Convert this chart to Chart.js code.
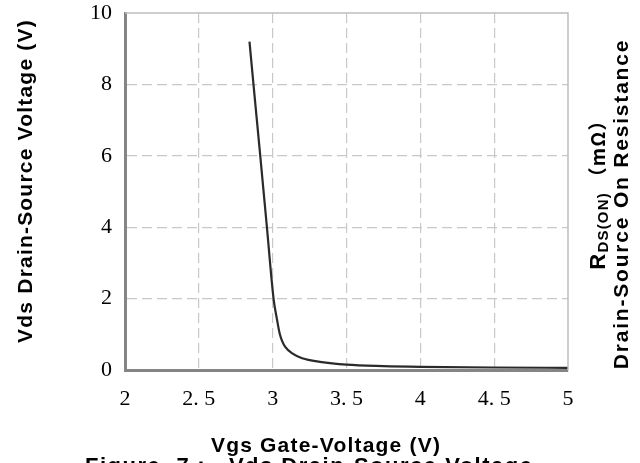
<!DOCTYPE html>
<html>
<head>
<meta charset="utf-8">
<script src="https://cdn.jsdelivr.net/npm/chart.js@4"></script>
<style>
  html, body { margin: 0; padding: 0; background: #fff; }
  #wrap { width: 640px; height: 463px; position: relative; }
</style>
</head>
<body>
<div id="wrap"><canvas id="vdsChart"></canvas></div>
<script>
// --- DATA ---
const vgs = [2.843, 2.87, 2.916, 2.961, 3.006, 3.03, 3.047, 3.065, 3.085, 3.13, 3.2, 3.32, 3.5, 3.75, 4.0, 4.5, 5.0];
const vds = [9.2, 8.0, 6.0, 4.0, 2.0, 1.4, 1.03, 0.8, 0.65, 0.47, 0.33, 0.23, 0.15, 0.11, 0.09, 0.07, 0.06];
const xTicks = [2, 2.5, 3, 3.5, 4, 4.5, 5];
const xTickLabels = ['2', '2. 5', '3', '3. 5', '4', '4. 5', '5'];
const yTicks = [0, 2, 4, 6, 8, 10];

const xTitle = 'Vgs Gate-Voltage (V)';
const yTitle = 'Vds Drain-Source Voltage (V)';
const caption = 'Figure  7\uFF1A  Vds Drain-Source Voltage';

const GRID = '#c8c8c8';
const SANS = '"Liberation Sans", Arial, sans-serif';
const SERIF = '"Liberation Serif", "Times New Roman", serif';

// titles, right-hand label and the clipped caption
const textPlugin = {
    id: 'texts',
    afterDraw(chart) {
        const ctx = chart.ctx;
        const area = chart.chartArea;

        // plain frame on top and right
        ctx.save();
        ctx.strokeStyle = '#bdbdbd';
        ctx.lineWidth = 1.5;
        ctx.beginPath();
        ctx.moveTo(area.left, area.top);
        ctx.lineTo(area.right, area.top);
        ctx.lineTo(area.right, area.bottom);
        ctx.stroke();
        ctx.restore();

        ctx.save();
        ctx.fillStyle = '#000';
        ctx.letterSpacing = '1.2px';
        ctx.font = 'bold 21px ' + SANS;
        ctx.textBaseline = 'alphabetic';
        ctx.textAlign = 'center';
        ctx.fillText(xTitle, 326, 452);

        ctx.save();
        ctx.translate(32, 181);
        ctx.rotate(-Math.PI / 2);
        ctx.fillText(yTitle, 0, 0);
        ctx.restore();

        // right axis label (two lines, rotated)
        ctx.save();
        ctx.translate(628, 204);
        ctx.rotate(-Math.PI / 2);
        ctx.letterSpacing = '1.8px';
        ctx.fillText('Drain-Source On Resistance', 0, 0);
        ctx.restore();

        ctx.save();
        ctx.translate(605, 190);
        ctx.rotate(-Math.PI / 2);
        ctx.textAlign = 'left';
        ctx.letterSpacing = '1.2px';
        const parts = [
            { t: 'R', f: 'bold 22px ' + SANS, dy: 0 },
            { t: 'DS(ON)', f: 'bold 15px ' + SANS, dy: 3 },
            { t: ' \uFF08m\u03A9\uFF09', f: 'bold 19px "Noto Sans CJK SC"', dy: 0 }
        ];
        let total = 0;
        parts.forEach(p => { ctx.font = p.f; p.w = ctx.measureText(p.t).width; total += p.w; });
        let px = -total / 2;
        parts.forEach(p => { ctx.font = p.f; ctx.fillText(p.t, px, p.dy); px += p.w; });
        ctx.restore();

        // caption, cut by the bottom edge
        ctx.textAlign = 'left';
        ctx.font = 'bold 22px ' + SANS;
        ctx.letterSpacing = '1.5px';
        ctx.fillText(caption, 85, 473);
        ctx.restore();
    }
};

const ctx = document.getElementById('vdsChart').getContext('2d');

new Chart(ctx, {
    type: 'line',
    data: {
        datasets: [{
            data: vgs.map((v, i) => ({ x: v, y: vds[i] })),
            borderColor: '#2a2a2a',
            borderWidth: 2.2,
            pointRadius: 0,
            fill: false,
            cubicInterpolationMode: 'monotone'
        }]
    },
    options: {
        responsive: true,
        maintainAspectRatio: false,
        animation: false,
        layout: { padding: { left: 0, right: 72, top: 13, bottom: 0 } },
        plugins: { legend: { display: false }, tooltip: { enabled: false } },
        scales: {
            x: {
                type: 'linear',
                min: xTicks[0], max: xTicks[xTicks.length - 1],
                afterFit: s => { s.height = 93; s.paddingLeft = 0; s.paddingRight = 0; },
                ticks: {
                    stepSize: 0.5,
                    padding: 16,
                    color: '#000',
                    font: { family: SERIF, size: 22 },
                    callback: v => xTickLabels[xTicks.indexOf(v)]
                },
                grid: {
                    drawTicks: false,
                    color: c => (c.tick && (c.tick.value === 5 || c.tick.value === 2)) ? 'rgba(0,0,0,0)' : GRID,
                    lineWidth: 1.2
                },
                border: { display: true, color: '#858585', width: 3, dash: [10, 5] }
            },
            y: {
                type: 'linear',
                min: yTicks[0], max: yTicks[yTicks.length - 1],
                afterFit: s => { s.width = 125; s.paddingTop = 0; s.paddingBottom = 0; },
                ticks: {
                    stepSize: 2,
                    padding: 13,
                    color: '#000',
                    font: { family: SERIF, size: 22 }
                },
                grid: {
                    drawTicks: false,
                    color: c => (c.tick && (c.tick.value === 10 || c.tick.value === 0)) ? 'rgba(0,0,0,0)' : GRID,
                    lineWidth: 1.2
                },
                border: { display: true, color: '#858585', width: 3, dash: [10, 5] }
            }
        }
    },
    plugins: [textPlugin]
});
</script>
</body>
</html>
